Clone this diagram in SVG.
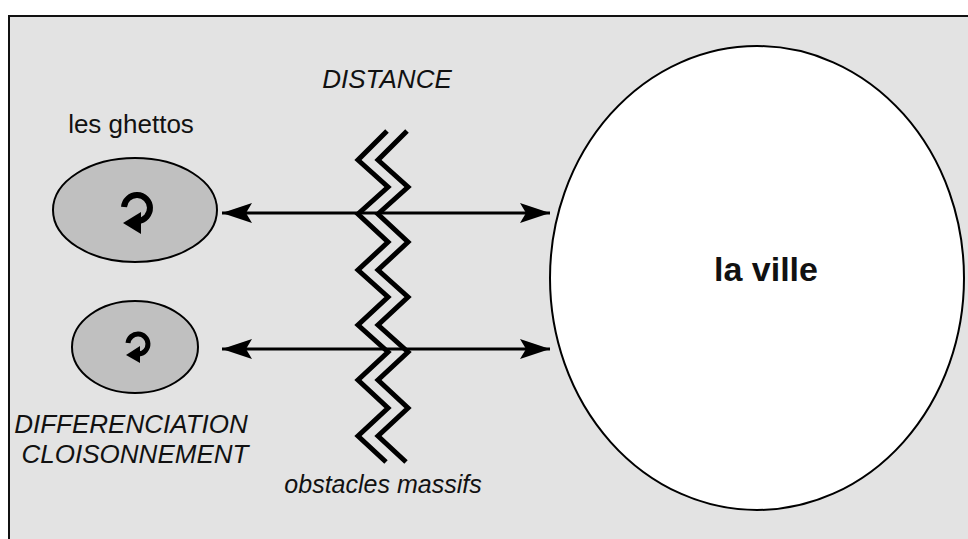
<svg xmlns="http://www.w3.org/2000/svg" width="968" height="539" viewBox="0 0 968 539">
<defs>
<style>
.t{font-family:"Liberation Sans",Arial,sans-serif;font-size:26px;fill:#111;text-anchor:middle}
.i{font-style:italic}
.z{fill:none;stroke:#000;stroke-width:5;stroke-linejoin:miter}
.a{stroke:#000;stroke-width:3;fill:none}
.node{stroke:#000;stroke-width:2}
.ic{fill:none;stroke:#000}
</style>
<marker id="arr" viewBox="0 0 30 20" refX="30" refY="10" markerWidth="30" markerHeight="20" markerUnits="userSpaceOnUse" orient="auto"><path d="M0,0 L30,10 L0,20 L6,10 z" fill="#000"/></marker>
</defs>
<rect x="0" y="0" width="968" height="539" fill="#fff"/>
<rect x="9" y="16" width="970" height="540" fill="#e3e3e3" stroke="#111" stroke-width="2"/>
<g id="connectors">
<path class="a" d="M386,213 L222,213" marker-end="url(#arr)"/>
<path class="a" d="M386,213 L550,213" marker-end="url(#arr)"/>
<path class="a" d="M386,349 L222,349" marker-end="url(#arr)"/>
<path class="a" d="M386,349 L550,349" marker-end="url(#arr)"/>
</g>
<g id="obstacles">
<path class="z" d="M387,131 L358,160 L388,187 L358,214 L388,242 L358,270 L388,297 L358,325 L388,352 L358,380 L388,408 L358,436 L386,462"/>
<path class="z" d="M407,131 L378,160 L408,187 L378,214 L408,242 L378,270 L408,297 L378,325 L408,352 L378,380 L408,408 L378,436 L406,462"/>
<text class="t i" x="383" y="493" style="font-size:25px">obstacles massifs</text>
</g>
<g id="distance"><text class="t i" x="387" y="88">DISTANCE</text></g>
<g id="ghetto1">
<ellipse class="node" cx="135" cy="210" rx="82" ry="52" fill="#c0c0c0"/>
<path class="ic" stroke-width="6" d="M124,207 A13,13 0 1 1 138,221"/>
<path d="M123,223 L141,212 L141,234 z" fill="#000"/>
<text class="t" x="131" y="133">les ghettos</text>
</g>
<g id="ghetto2">
<ellipse class="node" cx="135" cy="347" rx="63" ry="46" fill="#c0c0c0"/>
<path class="ic" stroke-width="5" d="M128,343 A10,10 0 1 1 139,354"/>
<path d="M126,355 L140,346 L140,363 z" fill="#000"/>
<text class="t i" x="131" y="433">DIFFERENCIATION</text>
<text class="t i" x="135" y="463">CLOISONNEMENT</text>
</g>
<g id="ville">
<ellipse class="node" cx="757" cy="278" rx="207" ry="232" fill="#fff"/>
<text class="t" x="766" y="281" style="font-weight:bold;font-size:34px">la ville</text>
</g>
</svg>
